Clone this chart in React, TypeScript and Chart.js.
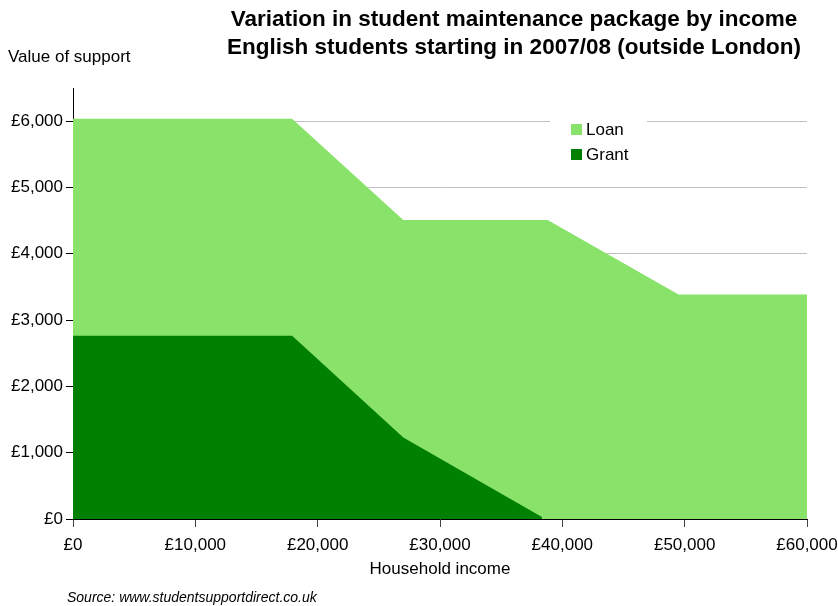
import React, { useEffect, useRef } from "react";
import { Chart, registerables } from "chart.js";

Chart.register(...registerables);

// Household income break points (£) and total package (loan + grant) at each
const packageIncome = [0, 17910, 27000, 38800, 49500, 60000];
const packageValue = [6035, 6035, 4510, 4510, 3385, 3385];

// Household income break points (£) and maintenance grant at each
const grantIncome = [0, 17910, 27000, 38330];
const grantValue = [2765, 2765, 1230, 30];

const seriesLabels = ["Grant", "Loan"];
const seriesColors = ["#008000", "#89E26A"];

const xTickValues = [0, 10000, 20000, 30000, 40000, 50000, 60000];
const yTickValues = [0, 1000, 2000, 3000, 4000, 5000, 6000];
const xMax = 60000;
const yMax = 6500;

const FONT = "'Liberation Sans', Arial, Helvetica, sans-serif";

const fmt = (v: number) => "£" + Number(v).toLocaleString("en-GB");

const legendPlugin = {
  id: "insideLegend",
  afterDraw(chart: any) {
    const ctx = chart.ctx;
    ctx.save();
    ctx.fillStyle = "#ffffff";
    ctx.fillRect(550, 112, 97, 56);
    const order = [1, 0];
    order.forEach((di, i) => {
      const ds = chart.data.datasets[di];
      const y = 129 + i * 25;
      ctx.fillStyle = ds.backgroundColor;
      ctx.fillRect(571, y - 5, 11, 11);
      ctx.fillStyle = "#000";
      ctx.font = `17px ${FONT}`;
      ctx.textBaseline = "middle";
      ctx.textAlign = "left";
      ctx.fillText(ds.label, 586, y + 1);
    });
    ctx.restore();
  },
};

export default function App() {
  const ref = useRef<HTMLCanvasElement | null>(null);

  useEffect(() => {
    if (!ref.current) return;
    const chart = new Chart(ref.current, {
      type: "line",
      data: {
        datasets: [
          {
            label: seriesLabels[0],
            data: grantIncome.map((x, i) => ({ x, y: grantValue[i] })),
            backgroundColor: seriesColors[0],
            borderColor: seriesColors[0],
            borderWidth: 0,
            pointRadius: 0,
            tension: 0,
            fill: "origin",
          },
          {
            label: seriesLabels[1],
            data: packageIncome.map((x, i) => ({ x, y: packageValue[i] })),
            backgroundColor: seriesColors[1],
            borderColor: seriesColors[1],
            borderWidth: 0,
            pointRadius: 0,
            tension: 0,
            fill: "origin",
          },
        ],
      },
      options: {
        animation: false,
        responsive: false,
        layout: { padding: { left: 8, right: 31, top: 88, bottom: 0 } },
        plugins: {
          legend: { display: false },
          tooltip: { enabled: false },
          title: { display: false },
        },
        scales: {
          x: {
            type: "linear",
            min: 0,
            max: xMax,
            afterBuildTicks: (axis: any) => {
              axis.ticks = xTickValues.map((v) => ({ value: v }));
            },
            ticks: {
              color: "#000",
              font: { family: FONT, size: 17 },
              padding: 8,
              maxRotation: 0,
              autoSkip: false,
              callback: (v: any) => fmt(v),
            },
            grid: {
              drawOnChartArea: false,
              tickLength: 8,
              tickColor: "#444",
            },
            border: { color: "#000", width: 1 },
            title: {
              display: true,
              text: "Household income",
              color: "#000",
              font: { family: FONT, size: 17 },
              padding: { top: 0, bottom: 26 },
            },
            afterFit: (s: any) => {
              s.height = 87;
              s.paddingLeft = 0;
              s.paddingRight = 0;
            },
          },
          y: {
            type: "linear",
            min: 0,
            max: yMax,
            afterBuildTicks: (axis: any) => {
              axis.ticks = yTickValues.map((v) => ({ value: v }));
            },
            ticks: {
              color: "#000",
              font: { family: FONT, size: 17 },
              padding: 3,
              autoSkip: false,
              callback: (v: any) => fmt(v),
            },
            grid: {
              color: "#c0c0c0",
              tickColor: "#000",
              tickLength: 7,
              lineWidth: 1,
            },
            border: { color: "#000", width: 1 },
            afterFit: (s: any) => {
              s.width = 65;
              s.paddingTop = 0;
              s.paddingBottom = 0;
            },
          },
        },
      },
      plugins: [legendPlugin],
    } as any);
    return () => chart.destroy();
  }, []);

  return (
    <div
      style={{
        position: "absolute",
        left: 0,
        top: 0,
        width: 838,
        height: 606,
        background: "#fff",
        fontFamily: FONT,
        color: "#000",
      }}
    >
      <canvas ref={ref} width={838} height={606} style={{ position: "absolute", left: 0, top: 0 }} />
      <div
        style={{
          position: "absolute",
          left: 514,
          top: 5,
          transform: "translateX(-50%)",
          whiteSpace: "nowrap",
          textAlign: "center",
          fontWeight: "bold",
          fontSize: 22.5,
          lineHeight: "28px",
        }}
      >
        Variation in student maintenance package by income
        <br />
        English students starting in 2007/08 (outside London)
      </div>
      <div style={{ position: "absolute", left: 8, top: 47, fontSize: 17, lineHeight: "20px", whiteSpace: "nowrap" }}>
        Value of support
      </div>
      <div
        style={{
          position: "absolute",
          left: 67,
          top: 589,
          fontSize: 14,
          lineHeight: "16px",
          fontStyle: "italic",
          whiteSpace: "nowrap",
        }}
      >
        Source: www.studentsupportdirect.co.uk
      </div>
    </div>
  );
}
